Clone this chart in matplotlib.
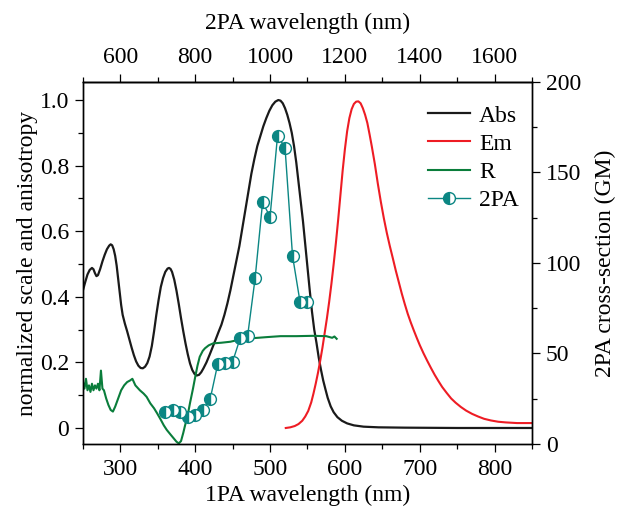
import matplotlib
matplotlib.use("Agg")
import matplotlib.pyplot as plt
from matplotlib.ticker import MultipleLocator

plt.rcParams['font.family'] = ['Liberation Serif', 'DejaVu Serif']

# Absorption (normalized), 1PA wavelength (nm)
abs_wl = [250, 253, 256, 259, 262, 264, 266, 268, 270, 273, 276, 279, 282, 285,
          287, 289, 291, 293, 295, 297, 299, 301, 303, 306, 309, 312, 315, 318,
          321, 324, 327, 330, 333, 336, 339, 342, 345, 348, 351, 354, 357, 360,
          363, 365, 367, 369, 372, 375, 378, 381, 384, 387, 390, 393, 396, 399,
          402, 405, 408, 411, 415, 419, 423, 427, 431, 435, 439, 443, 447, 451,
          455, 459, 463, 467, 471, 475, 479, 483, 487, 491, 495, 499, 503, 507,
          511, 514, 517, 520, 523, 526, 529, 532, 535, 538, 541, 544, 547, 550,
          553, 556, 559, 562, 565, 568, 571, 574, 577, 581, 585, 590, 596, 603,
          612, 625, 645, 680, 750, 850]
abs_val = [0.42, 0.445, 0.468, 0.482, 0.488, 0.484, 0.472, 0.463, 0.466, 0.485,
           0.508, 0.528, 0.545, 0.556, 0.56, 0.557, 0.545, 0.525, 0.495, 0.455,
           0.415, 0.375, 0.345, 0.318, 0.295, 0.27, 0.245, 0.222, 0.203, 0.19,
           0.183, 0.182, 0.187, 0.198, 0.218, 0.25, 0.295, 0.345, 0.39, 0.43,
           0.457, 0.476, 0.486, 0.488, 0.485, 0.476, 0.452, 0.418, 0.378, 0.335,
           0.295, 0.258, 0.225, 0.197, 0.177, 0.165, 0.16, 0.162, 0.17, 0.182,
           0.2, 0.222, 0.245, 0.268, 0.292, 0.315, 0.345, 0.38, 0.42, 0.465,
           0.51, 0.555, 0.61, 0.665, 0.72, 0.775, 0.82, 0.86, 0.89, 0.92, 0.945,
           0.967, 0.984, 0.995, 1.0, 0.998, 0.99, 0.975, 0.955, 0.93, 0.9, 0.86,
           0.81, 0.75, 0.69, 0.63, 0.56, 0.49, 0.42, 0.355, 0.3, 0.26, 0.215,
           0.178, 0.145, 0.118, 0.092, 0.066, 0.048, 0.033, 0.022, 0.014, 0.008,
           0.004, 0.002, 0.001, 0.0, 0.0]

# Emission (normalized)
em_wl = [521, 527, 533, 538, 543, 547, 551, 555, 558, 561, 564, 567, 570, 573,
         576, 579, 582, 585, 588, 591, 594, 597, 600, 603, 606, 609, 612, 615,
         618, 621, 624, 627, 630, 633, 636, 640, 644, 648, 652, 656, 660, 664,
         668, 672, 676, 680, 684, 688, 692, 696, 700, 705, 710, 715, 720, 725,
         730, 736, 742, 748, 755, 762, 770, 778, 786, 795, 805, 815, 830, 850]
em_val = [0.0, 0.002, 0.006, 0.012, 0.022, 0.035, 0.052, 0.078, 0.105, 0.135,
          0.168, 0.205, 0.245, 0.29, 0.335, 0.385, 0.44, 0.5, 0.565, 0.635, 0.71,
          0.785, 0.85, 0.905, 0.945, 0.972, 0.988, 0.995, 0.996, 0.99, 0.975,
          0.955, 0.93, 0.895, 0.858, 0.805, 0.745, 0.69, 0.64, 0.595, 0.555,
          0.518, 0.48, 0.445, 0.41, 0.378, 0.348, 0.322, 0.298, 0.275, 0.253,
          0.228, 0.205, 0.183, 0.162, 0.143, 0.125, 0.107, 0.09, 0.077, 0.064,
          0.053, 0.043, 0.035, 0.028, 0.023, 0.019, 0.017, 0.015, 0.015]

# Anisotropy
r_wl = [250, 252, 254, 256, 258, 260, 262, 264, 266, 268, 270, 272, 274, 276,
        278, 281, 284, 287, 290, 293, 297, 301, 305, 309, 313, 316, 320, 326,
        331, 335, 340, 345, 349, 354, 358, 362, 367, 371, 375, 378, 381, 384,
        386, 390, 393, 397, 400, 403, 406, 410, 413, 418, 424, 435, 447, 460,
        478, 495, 514, 535, 557, 575, 583, 586, 589]
r_val = [0.14, 0.12, 0.15, 0.115, 0.13, 0.11, 0.135, 0.115, 0.13, 0.12, 0.135,
         0.115, 0.175, 0.12, 0.115, 0.09, 0.07, 0.055, 0.05, 0.065, 0.09, 0.115,
         0.13, 0.14, 0.145, 0.15, 0.13, 0.115, 0.105, 0.095, 0.075, 0.06, 0.045,
         0.025, 0.008, -0.006, -0.02, -0.031, -0.042, -0.047, -0.04, -0.015,
         0.004, 0.04, 0.076, 0.12, 0.156, 0.19, 0.217, 0.235, 0.243, 0.252,
         0.258, 0.26, 0.263, 0.27, 0.274, 0.277, 0.28, 0.28, 0.281, 0.28,
         0.275, 0.279, 0.272]

# 2PA cross-section (GM) vs 2PA wavelength (nm)
tpa_wl = [720, 740, 760, 780, 800, 820, 840, 860, 880, 900, 920, 940, 960, 980,
          1000, 1020, 1040, 1060, 1080, 1100]
tpa_gm = [17.5, 18.8, 17.5, 15.1, 16.0, 18.8, 24.9, 44.0, 44.6, 45.5, 58.4,
          59.7, 91.5, 133.5, 125.6, 170.4, 163.7, 104.0, 78.6, 78.6]

teal = '#0b8683'
fs = 17

fig, ax = plt.subplots(figsize=(6.17, 5.08), dpi=100)
fig.subplots_adjust(left=0.1345, right=0.8622, bottom=0.126, top=0.8386)

l_abs, = ax.plot(abs_wl, abs_val, color='#1a1a1a', lw=1.6, label='Abs')
l_em, = ax.plot(em_wl, em_val, color='#ee1c24', lw=1.5, label='Em')
l_r, = ax.plot(r_wl, r_val, color='#0a7d3b', lw=1.5, label='R')

ax2 = ax.twinx()
l_tpa, = ax2.plot([w / 2 for w in tpa_wl], tpa_gm, color=teal, lw=1.0,
                  marker='o', ms=8.5, fillstyle='left', markerfacecolor=teal,
                  markerfacecoloralt='white', markeredgecolor=teal,
                  markeredgewidth=1.0, label='2PA')

ax.set_xlim(250, 850)
ax.set_ylim(-0.0488, 1.055)
ax2.set_ylim(0, 200)

ax.xaxis.set_major_locator(MultipleLocator(100))
ax.xaxis.set_minor_locator(MultipleLocator(50))
ax.yaxis.set_major_locator(MultipleLocator(0.2))
ax.yaxis.set_minor_locator(MultipleLocator(0.1))
ax.yaxis.set_major_formatter(plt.FuncFormatter(lambda v, p: '0' if abs(v) < 1e-9 else f'{v:.1f}'))
ax2.yaxis.set_major_locator(MultipleLocator(50))
ax2.yaxis.set_minor_locator(MultipleLocator(25))

top = ax.secondary_xaxis('top', functions=(lambda x: 2 * x, lambda x: x / 2))
top.xaxis.set_major_locator(MultipleLocator(200))
top.xaxis.set_minor_locator(MultipleLocator(100))

for a in (ax, ax2, top):
    a.tick_params(which='major', direction='out', length=6, width=0.9, labelsize=fs)
    a.tick_params(which='minor', direction='out', length=3.5, width=0.9)
ax.tick_params(axis='x', pad=5)
ax.tick_params(axis='y', pad=4)
ax2.tick_params(axis='y', pad=4)
top.tick_params(pad=4)

for a in (ax, ax2):
    for s in a.spines.values():
        s.set_linewidth(1.0)
top.spines['top'].set_linewidth(1.0)

ax.set_xlabel('1PA wavelength (nm)', fontsize=fs, labelpad=3)
ax.set_ylabel('normalized scale and anisotropy', fontsize=fs, labelpad=1)
ax2.set_ylabel('2PA cross-section (GM)', fontsize=fs, labelpad=10)
top.set_xlabel('2PA wavelength (nm)', fontsize=fs, labelpad=13)

ax2.legend([l_abs, l_em, l_r, l_tpa], ['Abs', 'Em', 'R', '2PA'],
           loc='upper left', bbox_to_anchor=(0.722, 0.995), frameon=False,
           fontsize=fs, handlelength=1.75, handletextpad=0.4, labelspacing=0.28)

fig.savefig('out.png', dpi=100)
